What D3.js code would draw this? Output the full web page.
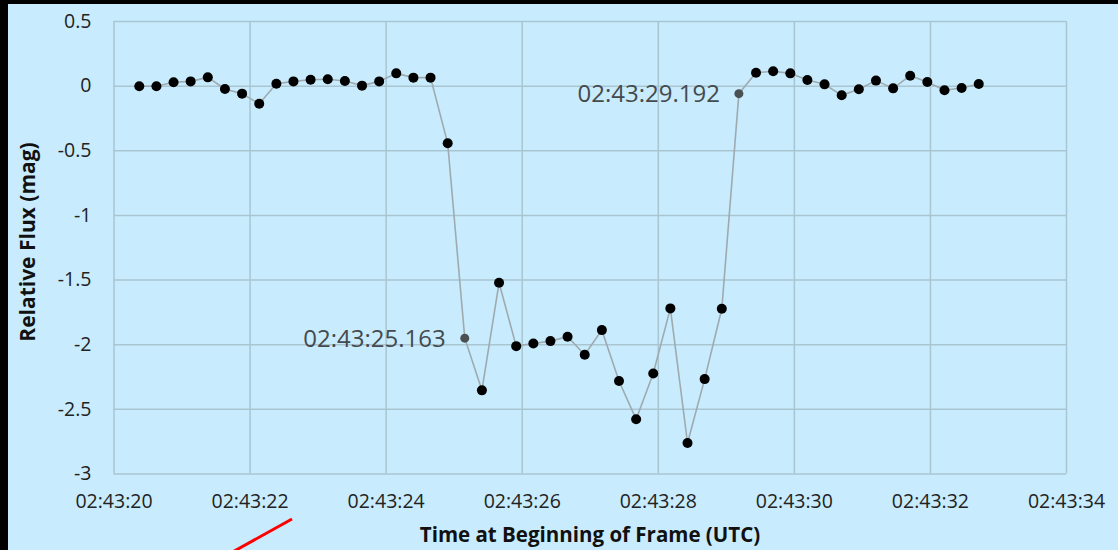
<!DOCTYPE html>
<html>
<head>
<meta charset="utf-8">
<script src="https://cdn.jsdelivr.net/npm/d3@7"></script>
<style>
  html, body { margin: 0; padding: 0; background: #000; }
  #chart { width: 1118px; height: 550px; }
</style>
</head>
<body>
<div id="chart"></div>
<script>
// frame start times, seconds after 02:43:00 UTC
const frameSeconds = [
  20.379, 20.631, 20.883, 21.134, 21.386, 21.638, 21.890, 22.142, 22.394, 22.645,
  22.897, 23.149, 23.401, 23.653, 23.905, 24.156, 24.408, 24.660, 24.912, 25.163,
  25.415, 25.667, 25.919, 26.171, 26.422, 26.674, 26.926, 27.178, 27.430, 27.682,
  27.933, 28.185, 28.437, 28.689, 28.941, 29.192, 29.444, 29.696, 29.948, 30.199,
  30.451, 30.703, 30.955, 31.207, 31.459, 31.710, 31.962, 32.214, 32.466, 32.718
];
// relative flux (mag)
const relFlux = [
  -0.005, -0.005, 0.026, 0.033, 0.064, -0.026, -0.062, -0.140, 0.015, 0.033,
  0.046, 0.049, 0.036, 0.000, 0.033, 0.095, 0.062, 0.062, -0.446, -1.953,
  -2.357, -1.525, -2.015, -1.994, -1.976, -1.942, -2.081, -1.891, -2.285, -2.581,
  -2.226, -1.723, -2.764, -2.270, -1.726, -0.062, 0.100, 0.111, 0.095, 0.044,
  0.010, -0.075, -0.028, 0.039, -0.021, 0.077, 0.028, -0.036, -0.018, 0.013
];
// labelled frames (disappearance / reappearance)
const labelledIdx = [19, 35];
const labelTexts = ['02:43:25.163', '02:43:29.192'];

const xTicks = [20, 22, 24, 26, 28, 30, 32, 34];
const xTickLabels = ['02:43:20', '02:43:22', '02:43:24', '02:43:26', '02:43:28', '02:43:30', '02:43:32', '02:43:34'];
const yTicks = [0.5, 0, -0.5, -1, -1.5, -2, -2.5, -3];
const yTickLabels = ['0.5', '0', '-0.5', '-1', '-1.5', '-2', '-2.5', '-3'];

const W = 1118, H = 550;
const plotLeft = 113.5, plotRight = 1066, plotTop = 21, plotBottom = 473.5;
const gridColor = '#a9c5d1';
const font = "'Open Sans', sans-serif";

const svg = d3.select('#chart').append('svg')
  .attr('width', W)
  .attr('height', H);

// light blue panel, black edges on top and left
svg.append('rect').attr('width', W).attr('height', H).attr('fill', '#000');
svg.append('rect').attr('x', 8).attr('y', 4).attr('width', W - 8).attr('height', H - 4).attr('fill', '#c8ecfd');

const x = d3.scaleLinear().domain([20, 34]).range([plotLeft, plotRight]);
const y = d3.scaleLinear().domain([-3, 0.5]).range([plotBottom, plotTop]);

// y axis + horizontal gridlines
const yAxis = svg.append('g')
  .attr('transform', `translate(${plotLeft},0)`)
  .call(d3.axisLeft(y)
    .tickValues(yTicks)
    .tickFormat((d, i) => yTickLabels[i])
    .tickSize(-(plotRight - plotLeft))
    .tickPadding(22));
yAxis.select('.domain').remove();
yAxis.selectAll('line').attr('stroke', gridColor).attr('stroke-width', 1.5);
yAxis.selectAll('text')
  .attr('fill', '#222')
  .style('font-family', font)
  .style('font-size', '19.5px');

// x axis + vertical gridlines
const xAxis = svg.append('g')
  .attr('transform', `translate(0,${plotBottom})`)
  .call(d3.axisBottom(x)
    .tickValues(xTicks)
    .tickFormat((d, i) => xTickLabels[i])
    .tickSize(-(plotBottom - plotTop)));
xAxis.select('.domain').remove();
xAxis.selectAll('line').attr('stroke', gridColor).attr('stroke-width', 1.5);
xAxis.selectAll('text')
  .attr('y', 28)
  .attr('dy', '0.35em')
  .attr('fill', '#222')
  .style('font-family', font)
  .style('font-size', '19.5px');

// axis titles
svg.append('text')
  .attr('x', 590)
  .attr('y', 535)
  .attr('dy', '0.35em')
  .attr('text-anchor', 'middle')
  .style('font-family', font)
  .style('font-weight', 'bold')
  .style('font-size', '20.5px')
  .attr('fill', '#111')
  .text('Time at Beginning of Frame (UTC)');

svg.append('text')
  .attr('transform', 'translate(28,242) rotate(-90)')
  .attr('dy', '0.35em')
  .attr('text-anchor', 'middle')
  .style('font-family', font)
  .style('font-weight', 'bold')
  .style('font-size', '21px')
  .attr('fill', '#111')
  .text('Relative Flux (mag)');

// the light curve
const pts = frameSeconds.map((t, i) => ({ t: t, v: relFlux[i], i: i }));

svg.append('path')
  .datum(pts)
  .attr('fill', 'none')
  .attr('stroke', '#9eaab0')
  .attr('stroke-width', 1.6)
  .attr('d', d3.line().x(d => x(d.t)).y(d => y(d.v)));

svg.selectAll('.pt')
  .data(pts)
  .enter()
  .append('circle')
  .attr('class', 'pt')
  .attr('cx', d => x(d.t))
  .attr('cy', d => y(d.v))
  .attr('r', d => labelledIdx.includes(d.i) ? 4.5 : 5)
  .attr('fill', d => labelledIdx.includes(d.i) ? '#4a4f52' : '#000');

// time labels next to the disappearance / reappearance frames
svg.selectAll('.lbl')
  .data(labelledIdx)
  .enter()
  .append('text')
  .attr('class', 'lbl')
  .attr('x', d => x(frameSeconds[d]) - 19)
  .attr('y', d => y(relFlux[d]))
  .attr('dy', '0.35em')
  .attr('text-anchor', 'end')
  .style('font-family', font)
  .style('font-size', '24px')
  .attr('fill', '#454a4d')
  .text((d, i) => labelTexts[i]);

// red pointer line poking in at the bottom
svg.append('line')
  .attr('x1', 292).attr('y1', 519)
  .attr('x2', 220).attr('y2', 559)
  .attr('stroke', '#f00')
  .attr('stroke-width', 3);
</script>
</body>
</html>
